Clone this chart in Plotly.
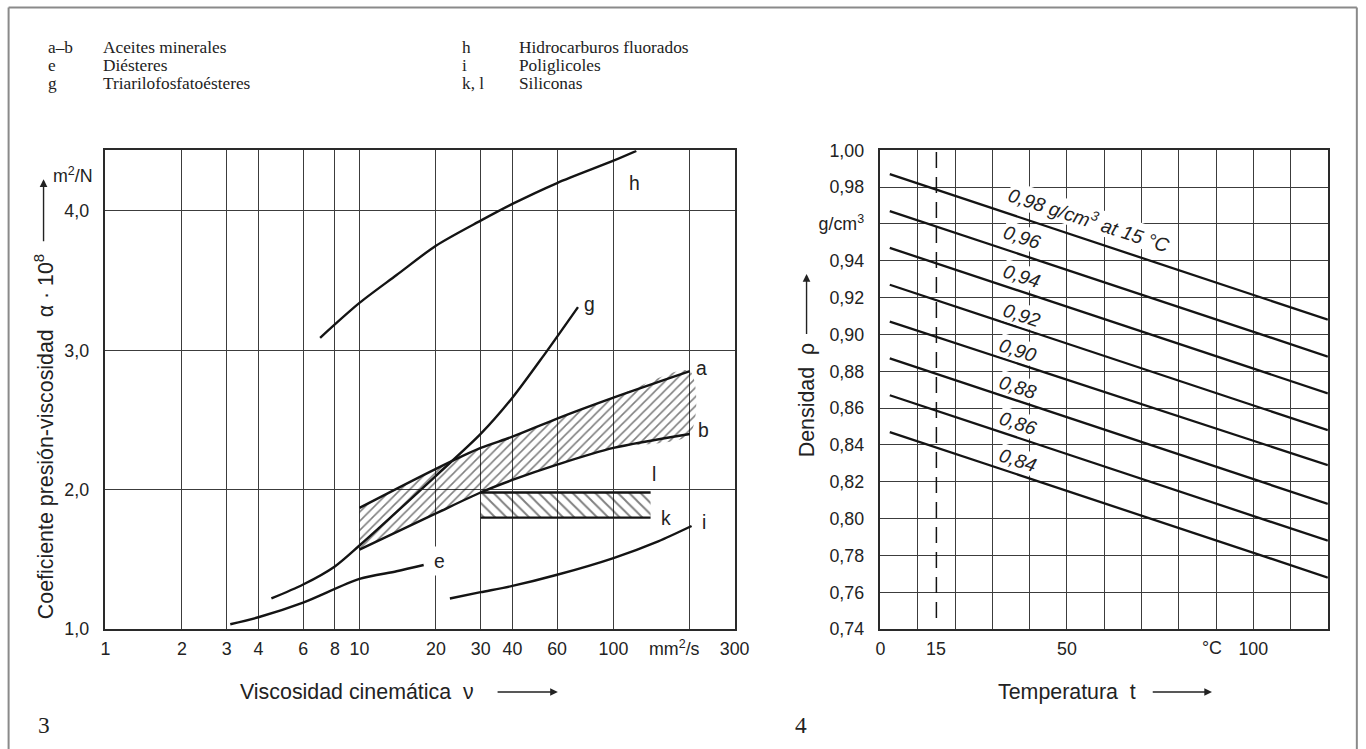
import numpy as np
import plotly.graph_objects as go

# Page is rendered with body margin 0 (post_script); the photographed picture maps page
# pixels p to picture pixels roughly as  X = 0.987*p + 4.4 ,  Y = 0.977*p + 8.4 .
# Positions below are given in reference-picture pixels and converted.
SX, OX = 0.987, 4.4
SY, OY = 0.977, 8.4
W, H = 1400, 790
FS = 1 / 0.982  # font compensation

# ---------------- data: figure 3 (pressure-viscosity coefficient) ----------------
h_x = [7, 10, 14, 20, 30, 40, 60, 100, 123]
h_y = [3.09, 3.34, 3.54, 3.75, 3.93, 4.05, 4.20, 4.36, 4.43]

g_x = [4.5, 6, 8, 10, 20, 30, 40, 53, 72.5]
g_y = [1.22, 1.32, 1.45, 1.60, 2.10, 2.40, 2.66, 2.96, 3.31]

a_x = [10, 20, 30, 40, 60, 100, 200]
a_y = [1.87, 2.15, 2.30, 2.38, 2.51, 2.66, 2.85]

b_x = [10, 20, 30, 40, 60, 100, 200]
b_y = [1.57, 1.83, 1.98, 2.07, 2.18, 2.30, 2.40]

e_x = [3.1, 4, 6, 10, 14, 17.9]
e_y = [1.035, 1.085, 1.19, 1.36, 1.415, 1.46]

i_x = [22.7, 30, 40, 60, 100, 150, 203]
i_y = [1.22, 1.265, 1.31, 1.39, 1.51, 1.63, 1.74]

sil_x = [30, 140]
sil_l = 1.98
sil_k = 1.80

curve_lbl = ['a', 'b', 'h', 'g', 'l', 'k', 'i', 'e']
curve_lbl_x = [222, 227, 121, 80.8, 145, 161, 227, 20.7]
curve_lbl_y = [2.87, 2.43, 4.20, 3.33, 2.11, 1.80, 1.77, 1.49]

visc_ticks = [1, 2, 3, 4, 6, 8, 10, 20, 30, 40, 60, 100, 200, 300]
visc_text = ['1', '2', '3', '4', '6', '8', '10', '20', '30', '40', '60', '100', '', '300']
alpha_ticks = [1, 2, 3, 4]
alpha_text = ['1,0', '2,0', '3,0', '4,0']

# ---------------- data: figure 4 (density vs temperature) ----------------
dens_nominal = ['0,98', '0,96', '0,94', '0,92', '0,90', '0,88', '0,86', '0,84']
dens_t = [2.5, 120]
dens_start = [0.987, 0.967, 0.947, 0.927, 0.907, 0.887, 0.867, 0.847]
dens_end = [0.908, 0.888, 0.868, 0.848, 0.829, 0.808, 0.788, 0.768]
dens_lbl_t = [56, 38, 38, 38, 37, 37, 37, 37]
dens_lbl_y = [0.9625, 0.9527, 0.9317, 0.9107, 0.8917, 0.8717, 0.8517, 0.8317]
ref_t = 15
ref_range = [0.746, 1.0]

temp_ticks = [0, 10, 20, 30, 40, 50, 60, 70, 80, 90, 100, 110, 120]
temp_text = ['0', '', '', '', '', '50', '', '', '', '', '100', '', '']
dens_ticks = [0.74, 0.76, 0.78, 0.80, 0.82, 0.84, 0.86, 0.88, 0.90, 0.92, 0.94, 0.96, 0.98, 1.00]
dens_text = ['0,74', '0,76', '0,78', '0,80', '0,82', '0,84', '0,86', '0,88', '0,90',
             '0,92', '0,94', 'g/cm<sup>3</sup>', '0,98', '1,00']

legend_keys_l = ['a–b', 'e', 'g']
legend_desc_l = ['Aceites minerales', 'Diésteres', 'Triarilofosfatoésteres']
legend_keys_r = ['h', 'i', 'k, l']
legend_desc_r = ['Hidrocarburos fluorados', 'Poliglicoles', 'Siliconas']

# ---------------- helpers ----------------
def P(rx):
    return ((rx - OX) / SX) / W

def Q(ry):
    return 1 - ((ry - OY) / SY) / H

SANS = 'Liberation Sans, Arial, sans-serif'
SERIF = 'Liberation Serif, Times New Roman, serif'
INK = '#141414'
GRID = '#3c3c3c'
TXT = '#222222'

fig = go.Figure()

band_x = a_x + b_x[::-1]
band_y = a_y + b_y[::-1]
fig.add_trace(go.Scatter(x=band_x, y=band_y, mode='lines', fill='toself',
                         line=dict(width=0, color='rgba(0,0,0,0)', shape='spline', smoothing=0.8),
                         fillcolor='rgba(0,0,0,0)',
                         fillpattern=dict(shape='/', size=6.5, solidity=0.24,
                                          fgcolor='#000000', bgcolor='rgba(255,255,255,0)'),
                         xaxis='x', yaxis='y', hoverinfo='skip'))
sx = [sil_x[0], sil_x[1], sil_x[1], sil_x[0]]
sy = [sil_l, sil_l, sil_k, sil_k]
fig.add_trace(go.Scatter(x=sx, y=sy, mode='lines', fill='toself',
                         line=dict(width=0, color='rgba(0,0,0,0)'),
                         fillcolor='rgba(0,0,0,0)',
                         fillpattern=dict(shape='\\', size=8, solidity=0.24,
                                          fgcolor='#000000', bgcolor='rgba(255,255,255,0)'),
                         xaxis='x', yaxis='y', hoverinfo='skip'))

for xs, ys in [(h_x, h_y), (g_x, g_y), (a_x, a_y), (b_x, b_y), (e_x, e_y), (i_x, i_y)]:
    fig.add_trace(go.Scatter(x=xs, y=ys, mode='lines',
                             line=dict(color=INK, width=2.4, shape='spline', smoothing=0.8),
                             xaxis='x', yaxis='y'))
for yv in [sil_l, sil_k]:
    fig.add_trace(go.Scatter(x=sil_x, y=[yv, yv], mode='lines',
                             line=dict(color=INK, width=2.4), xaxis='x', yaxis='y'))

for s, e in zip(dens_start, dens_end):
    fig.add_trace(go.Scatter(x=dens_t, y=[s, e], mode='lines',
                             line=dict(color=INK, width=2.3), xaxis='x2', yaxis='y2'))
fig.add_trace(go.Scatter(x=[ref_t, ref_t], y=ref_range, mode='lines',
                         line=dict(color=INK, width=1.5, dash='16px,9px'),
                         xaxis='x2', yaxis='y2'))

axis_common = dict(showgrid=True, gridcolor=GRID, gridwidth=1, zeroline=False,
                   showline=True, linecolor='#2a2a2a', linewidth=1.6, mirror=True,
                   ticks='', tickfont=dict(family=SANS, size=17.5 * FS, color=TXT),
                   fixedrange=True)

yb, yt = Q(629), Q(149)
fig.update_layout(
    width=W, height=H, margin=dict(l=0, r=0, t=0, b=0),
    paper_bgcolor='white', plot_bgcolor='white', showlegend=False,
    xaxis=dict(type='log', range=[0, np.log10(300)], domain=[P(105), P(735)],
               tickmode='array', tickvals=visc_ticks, ticktext=visc_text,
               anchor='y', ticklabelstandoff=3, **axis_common),
    yaxis=dict(range=[1, 4.435], domain=[yb, yt], tickmode='array',
               tickvals=alpha_ticks, ticktext=alpha_text, anchor='x',
               ticklabelstandoff=11, **axis_common),
    xaxis2=dict(range=[0, 120], domain=[P(881), P(1329)], tickmode='array',
                tickvals=temp_ticks, ticktext=temp_text, anchor='y2',
                ticklabelstandoff=3, **axis_common),
    yaxis2=dict(range=[0.74, 1.0], domain=[yb, yt], tickmode='array',
                tickvals=dens_ticks, ticktext=dens_text, anchor='x2',
                ticklabelstandoff=11, **axis_common),
)

ann = []

def txt(text, x, y, size, family=SANS, xanchor='center', yanchor='middle', xref='paper',
        yref='paper', angle=0, bg=None, pad=1):
    ann.append(dict(text=text, x=x, y=y, xref=xref, yref=yref, xanchor=xanchor,
                    yanchor=yanchor, showarrow=False, textangle=angle,
                    font=dict(family=family, size=size * FS, color=TXT), bgcolor=bg, borderpad=pad))

for t, xv, yv in zip(curve_lbl, curve_lbl_x, curve_lbl_y):
    txt(t, np.log10(xv), yv, 19, xref='x', yref='y', bg='white' if t == 'e' else None, pad=3)

for i, (lbl, tx, ty) in enumerate(zip(dens_nominal, dens_lbl_t, dens_lbl_y)):
    s = '<i>' + lbl + (' g/cm<sup>3</sup> at 15 °C' if i == 0 else '') + '</i>'
    txt(s, tx, ty, 19, xref='x2', yref='y2', angle=18, bg='white', pad=0)

txt('mm<sup>2</sup>/s', P(675), Q(648), 17.5)
txt('15', ref_t, Q(649), 17.5, xref='x2')
txt('°C', P(1213), Q(648), 17.5)
txt('m<sup>2</sup>/N', P(95), Q(174), 17.5, xanchor='right')

txt('Coeficiente presión-viscosidad  α · 10<sup>8</sup>', P(43), Q(436), 21, angle=-90)
txt('Densidad  ρ', P(807), Q(400), 21, angle=-90)
txt('Viscosidad cinemática  ν', P(357), Q(692), 21)
txt('Temperatura  t', P(1068), Q(692), 21)

for hx, hy, ax, ay in [(43, 178, 0, 62), (807, 273, 0, 60), (558, 692, -61, 0), (1213, 692, -60, 0)]:
    ann.append(dict(text='', x=P(hx), y=Q(hy), xref='paper', yref='paper', showarrow=True,
                    xanchor='center', yanchor='middle',
                    ax=ax / SX, ay=ay / SY, arrowhead=2, arrowsize=1.1, arrowwidth=1.4,
                    arrowcolor=TXT))

txt('3', P(43), Q(725), 23, family=SERIF)
txt('4', P(801), Q(725), 23, family=SERIF)

rows = [46, 64, 82]
for k, d, r in zip(legend_keys_l, legend_desc_l, rows):
    txt(k, P(46), Q(r), 17, family=SERIF, xanchor='left', pad=0)
    txt(d, P(102), Q(r), 17, family=SERIF, xanchor='left', pad=0)
for k, d, r in zip(legend_keys_r, legend_desc_r, rows):
    txt(k, P(461), Q(r), 17, family=SERIF, xanchor='left', pad=0)
    txt(d, P(518), Q(r), 17, family=SERIF, xanchor='left', pad=0)

fig.update_layout(annotations=ann)

# outer frame (left, top, right)
fx0, fx1, fy1, fyb = P(8), P(1358), Q(6), Q(760)
for x0, x1, y0, y1 in [(fx0, fx0, fyb, fy1), (fx0, fx1, fy1, fy1), (fx1, fx1, fyb, fy1)]:
    fig.add_shape(type='line', xref='paper', yref='paper', x0=x0, x1=x1, y0=y0, y1=y1,
                  line=dict(color='#8a8a8a', width=2), layer='below')

fig.write_html('out.html', config={'displayModeBar': False},
               post_script="document.body.style.margin='0px';"
                           "document.body.style.overflow='hidden';"
                           "document.documentElement.style.overflow='hidden';")
